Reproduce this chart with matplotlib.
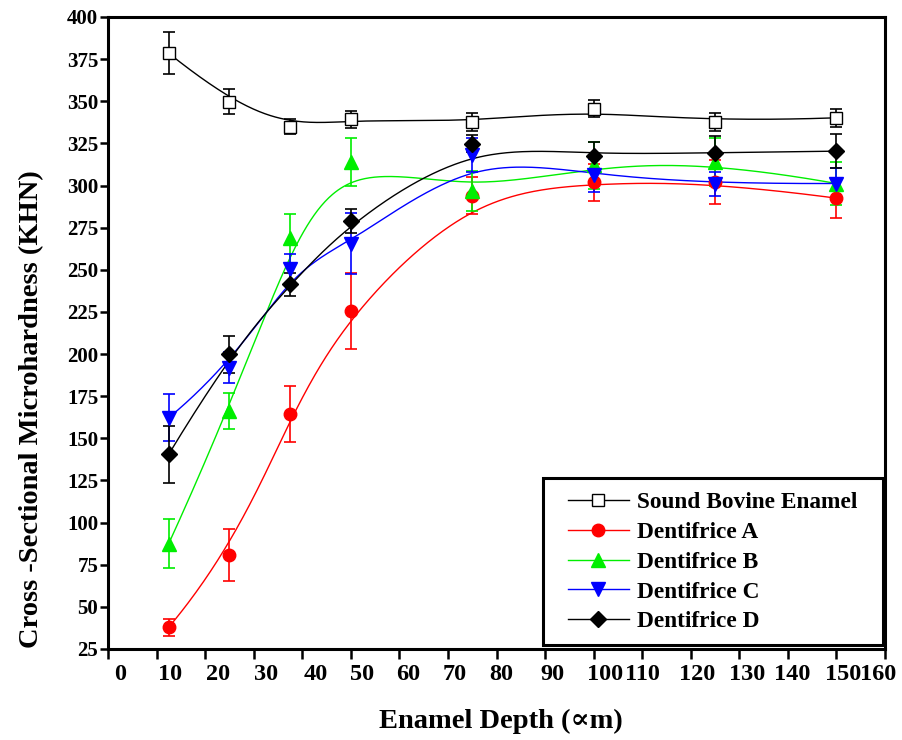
import numpy as np
import matplotlib
matplotlib.use("Agg")
import matplotlib.pyplot as plt
from matplotlib.lines import Line2D
from matplotlib.patches import Rectangle
import matplotlib.transforms as mtransforms

plt.rcParams['font.family'] = ['Liberation Serif', 'DejaVu Serif']
plt.rcParams['font.weight'] = 'bold'

depth = [12.5, 25, 37.5, 50, 75, 100, 125, 150]

sound = [378.5, 349.8, 334.8, 339.2, 337.6, 345.6, 337.6, 340.2]
sound_err = [12.5, 7.5, 4.5, 5.0, 5.5, 5.0, 5.5, 5.5]

dent_a = [37.9, 80.8, 164.3, 225.6, 294.0, 302.0, 302.0, 292.5]
dent_a_err = [5.0, 15.5, 16.7, 22.6, 11.0, 11.0, 13.0, 12.0]

dent_b = [87.5, 166.3, 268.8, 314.0, 296.6, 312.0, 314.0, 301.2]
dent_b_err = [14.5, 10.6, 14.5, 14.0, 12.0, 14.0, 14.0, 13.0]

dent_c = [162.2, 192.0, 250.6, 265.5, 318.0, 306.0, 301.0, 301.2]
dent_c_err = [14.0, 9.0, 9.0, 18.0, 10.0, 10.0, 7.0, 9.0]

dent_d = [140.5, 200.0, 241.3, 278.8, 324.7, 317.6, 319.6, 320.4]
dent_d_err = [17.0, 11.0, 7.0, 7.0, 5.0, 8.0, 10.0, 10.0]

labels = ["Sound Bovine Enamel", "Dentifrice A", "Dentifrice B",
          "Dentifrice C", "Dentifrice D"]

x_ticks = list(range(0, 161, 10))
y_ticks = list(range(25, 401, 25))


def bspline(xs, ys, num=400, k=3):
    P = np.column_stack([xs, ys]).astype(float)
    n = len(P)
    knots = np.concatenate([[0.0] * k, np.arange(n - k + 1, dtype=float),
                            [float(n - k)] * k])
    t = np.linspace(0, n - k, num)
    t[-1] -= 1e-9
    m = len(knots) - 1
    N = np.zeros((num, m))
    for i in range(m):
        N[:, i] = (knots[i] <= t) & (t < knots[i + 1])
    for d in range(1, k + 1):
        Nn = np.zeros((num, m - d))
        for i in range(m - d):
            a = knots[i + d] - knots[i]
            b = knots[i + d + 1] - knots[i + 1]
            term = np.zeros(num)
            if a > 0:
                term += (t - knots[i]) / a * N[:, i]
            if b > 0:
                term += (knots[i + d + 1] - t) / b * N[:, i + 1]
            Nn[:, i] = term
        N = Nn
    C = N[:, :n] @ P
    return C[:, 0], C[:, 1]


fig = plt.figure(figsize=(9.02, 7.40), dpi=100)
ax = fig.add_axes([108 / 902, 1 - 649 / 740, 777 / 902, 632 / 740])

series = [
    (sound, sound_err, 'black', 's', 'white', 8),
    (dent_a, dent_a_err, '#ff0000', 'o', '#ff0000', 9),
    (dent_b, dent_b_err, '#00ee00', '^', '#00ee00', 10),
    (dent_c, dent_c_err, '#0000ff', 'v', '#0000ff', 10),
    (dent_d, dent_d_err, 'black', 'D', 'black', 8),
]

handles = []
for (vals, errs, col, mk, fc, ms), lab in zip(series, labels):
    sx, sy = bspline(depth, vals)
    ax.plot(sx, sy, color=col, lw=1.0, zorder=2)
    ax.errorbar(depth, vals, yerr=errs, fmt='none', ecolor=col,
                elinewidth=1.2, capsize=4.5, capthick=1.2, zorder=3)
    ax.plot(depth, vals, linestyle='none', marker=mk, markersize=ms,
            markerfacecolor=fc, markeredgecolor=col, markeredgewidth=1.0,
            zorder=4)
    handles.append(Line2D([], [], color=col, lw=1.0, marker=mk,
                          markersize=ms, markerfacecolor=fc,
                          markeredgecolor=col))

ax.set_xlim(0, 160)
ax.set_ylim(25, 400)
ax.set_xticks(x_ticks)
ax.set_yticks(y_ticks)
ax.tick_params(axis='x', direction='out', length=7, width=1.8,
               labelsize=17.5, pad=4)
ax.tick_params(axis='y', direction='out', length=6, width=1.8,
               labelsize=15, pad=1)
# pixel shifts of the x tick labels as placed in the reference
x_label_shift = [12, 13, 13, 12, 13, 11, 9, 7, 5, 7, 11, 0, 6, 8, 4, 7, -7]
for lbl, sh in zip(ax.get_xticklabels(), x_label_shift):
    off = mtransforms.ScaledTranslation(sh / 100, 0, fig.dpi_scale_trans)
    lbl.set_transform(lbl.get_transform() + off)
    lbl.set_fontweight('bold')
for lbl in ax.get_yticklabels():
    lbl.set_fontweight('bold')
for sp in ax.spines.values():
    sp.set_linewidth(2.2)

ax.set_xlabel("Enamel Depth (\u221dm)", fontsize=20.5, fontweight='bold')
ax.xaxis.set_label_coords((501 - 108) / 777, (649 - 709) / 632)
ax.set_ylabel("Cross -Sectional Microhardness (KHN)", fontsize=20.5,
              fontweight='bold')
ax.yaxis.set_label_coords((44 - 108) / 777, (649 - 409) / 632)

# legend frame
ax.add_patch(Rectangle(((543 - 108) / 777, (649 - 645) / 632),
                       340 / 777, 167 / 632, transform=ax.transAxes,
                       fill=True, facecolor='white', edgecolor='black',
                       linewidth=2.2, zorder=5, clip_on=False))
leg = ax.legend(handles, labels, loc='upper left',
                bbox_to_anchor=((568 - 108) / 777, (649 - 492) / 632),
                borderaxespad=0, borderpad=0, frameon=False,
                handlelength=2.6, handletextpad=0.34, labelspacing=0.36,
                prop={'size': 16.8, 'weight': 'bold'})
leg.set_zorder(6)

fig.savefig("out.png", dpi=100)
